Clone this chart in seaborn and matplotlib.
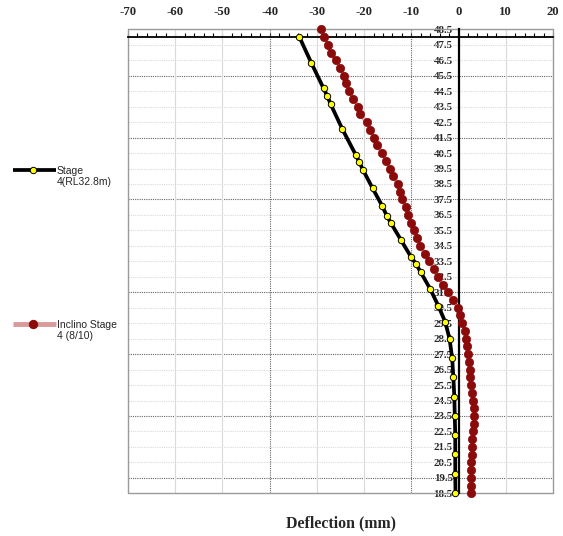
import matplotlib
matplotlib.use("Agg")
import matplotlib.pyplot as plt
from matplotlib.lines import Line2D
from matplotlib.ticker import MultipleLocator, FormatStrFormatter
import seaborn as sns
import pandas as pd

# ---- data ----
stage_level = [48.0, 46.34, 44.69, 44.19, 43.67, 42.04, 40.4, 39.9, 39.39, 38.22,
               37.1, 36.45, 35.96, 34.88, 33.8, 33.33, 32.79, 31.71, 30.63, 29.56,
               28.48, 27.23, 26.0, 24.75, 23.52, 22.27, 21.03, 19.75, 18.5]
stage_defl = [-33.7, -31.2, -28.6, -27.8, -27.1, -24.6, -21.8, -21.0, -20.2, -18.2,
              -16.2, -15.2, -14.3, -12.2, -10.1, -9.0, -8.0, -6.0, -4.3, -2.8,
              -1.9, -1.35, -1.1, -0.9, -0.8, -0.7, -0.7, -0.7, -0.65]

inclino_level = [48.5, 48.0, 47.5, 47.0, 46.5, 46.0, 45.5, 45.0, 44.5, 44.0,
                 43.5, 43.0, 42.5, 42.0, 41.5, 41.0, 40.5, 40.0, 39.5, 39.0,
                 38.5, 38.0, 37.5, 37.0, 36.5, 36.0, 35.5, 35.0, 34.5, 34.0,
                 33.5, 33.0, 32.5, 32.0, 31.5, 31.0, 30.5, 30.0, 29.5, 29.0,
                 28.5, 28.0, 27.5, 27.0, 26.5, 26.0, 25.5, 25.0, 24.5, 24.0,
                 23.5, 23.0, 22.5, 22.0, 21.5, 21.0, 20.5, 20.0, 19.5, 19.0, 18.5]
inclino_defl = [-29.2, -28.4, -27.6, -27.1, -25.9, -25.1, -24.2, -23.9, -23.2, -22.3,
                -21.2, -20.9, -19.4, -18.7, -18.0, -17.2, -16.2, -15.3, -14.5, -13.8,
                -12.9, -12.4, -11.9, -11.2, -10.7, -10.1, -9.5, -8.8, -8.1, -7.2,
                -6.2, -5.2, -4.3, -3.3, -2.2, -1.1, -0.2, 0.3, 0.8, 1.4,
                1.6, 1.8, 2.0, 2.2, 2.4, 2.5, 2.7, 2.8, 3.0, 3.2,
                3.2, 3.2, 3.0, 2.9, 2.9, 2.8, 2.7, 2.7, 2.7, 2.6, 2.6]

x_ticks = [-70, -60, -50, -40, -30, -20, -10, 0, 10, 20]
y_ticks = [48.5, 47.5, 46.5, 45.5, 44.5, 43.5, 42.5, 41.5, 40.5, 39.5, 38.5, 37.5,
           36.5, 35.5, 34.5, 33.5, 32.5, 31.5, 30.5, 29.5, 28.5, 27.5, 26.5, 25.5,
           24.5, 23.5, 22.5, 21.5, 20.5, 19.5, 18.5]
dark_h_grid = [45.5, 41.5, 37.5, 31.5, 27.5, 23.5, 19.5]
dark_v_grid = [-40, -10]

label_stage = "Stage\n4(RL32.8m)"
label_inclino = "Inclino Stage\n4 (8/10)"
x_title = "Deflection (mm)"

df_stage = pd.DataFrame({"defl": stage_defl, "level": stage_level})
df_incl = pd.DataFrame({"defl": inclino_defl, "level": inclino_level})

sns.set_style("white")
plt.rcParams["font.family"] = ["Liberation Serif", "DejaVu Serif"]
plt.rcParams["font.weight"] = "bold"
plt.rcParams["axes.unicode_minus"] = False

W, H = 563, 536
fig = plt.figure(figsize=(W / 100, H / 100), dpi=100)
ax = fig.add_axes([128 / W, 1 - 493.3 / H, (553 - 128) / W, (493.3 - 29.3) / H])

RED_LINE = "#e0b0b0"
RED_DOT = "#8b0a0a"

# gridlines
for y in y_ticks:
    if y in dark_h_grid:
        ax.axhline(y, color="#666666", lw=0.8, ls=(0, (1, 1)), zorder=1)
    elif y not in (48.5, 18.5):
        ax.axhline(y, color="#dadada", lw=0.8, ls=(0, (1, 1)), zorder=1)
for x in x_ticks:
    if x in dark_v_grid:
        ax.axvline(x, color="#666666", lw=0.8, ls=(0, (1, 1)), zorder=1)
    elif x not in (-70, 0, 20):
        ax.axvline(x, color="#dadada", lw=0.8, zorder=1)

# frame
for y in (48.5, 18.5):
    ax.axhline(y, color="#9a9a9a", lw=1.0, zorder=2, clip_on=False)
for x in (-70, 20):
    ax.axvline(x, color="#9a9a9a", lw=1.0, zorder=2, clip_on=False)

# data
sns.lineplot(data=df_incl, x="defl", y="level", sort=False, estimator=None,
             color=RED_LINE, lw=3.0, marker="o", markersize=6.0,
             markerfacecolor=RED_DOT, markeredgecolor=RED_DOT, markeredgewidth=0.5,
             ax=ax, zorder=5, clip_on=False)
sns.lineplot(data=df_stage, x="defl", y="level", sort=False, estimator=None,
             color="black", lw=2.7, marker="o", markersize=4.6,
             markerfacecolor="#ffff00", markeredgecolor="black", markeredgewidth=0.7,
             ax=ax, zorder=6, clip_on=False)

ax.set_xlim(-70, 20)
ax.set_ylim(18.5, 48.5)

# axes styling
ax.spines["left"].set_position(("data", 0))
ax.spines["left"].set_color("black")
ax.spines["left"].set_linewidth(1.6)
ax.spines["left"].set_zorder(4)
ax.spines["top"].set_position(("data", 48.0))
ax.spines["top"].set_color("black")
ax.spines["top"].set_linewidth(1.3)
ax.spines["top"].set_zorder(4)
ax.spines["right"].set_visible(False)
ax.spines["bottom"].set_visible(False)

ax.xaxis.tick_top()
ax.set_xticks(x_ticks)
ax.xaxis.set_minor_locator(MultipleLocator(2))
ax.tick_params(axis="x", which="both", direction="out", length=3, width=0.8,
               color="black", pad=11, labelsize=9.2)
ax.set_yticks(y_ticks)
ax.yaxis.set_major_formatter(FormatStrFormatter("%.1f"))
ax.tick_params(axis="y", which="both", direction="out", length=3, width=1.0,
               color="black", pad=1.2, labelsize=7.8)

ax.set_ylabel("")
ax.xaxis.set_label_position("bottom")
ax.set_xlabel(x_title, fontsize=11.4, fontweight="bold", labelpad=16)

# legend (placed at left, outside the plot)
def legend_entry(y_px, text_y_px, line_color, lw, mfc, mec, ms, text):
    yf = 1 - y_px / H
    fig.add_artist(Line2D([13 / W, 56 / W], [yf, yf], transform=fig.transFigure,
                          color=line_color, lw=lw, solid_capstyle="butt"))
    fig.add_artist(Line2D([33 / W], [yf], transform=fig.transFigure, marker="o",
                          ms=ms, mfc=mfc, mec=mec, mew=0.7, lw=0))
    fig.text(56.5 / W, 1 - text_y_px / H, text, fontsize=7.5, va="center",
             ha="left", family=["Liberation Sans", "DejaVu Sans"],
             fontweight="normal", linespacing=1.15)

legend_entry(170, 176.5, "black", 2.7, "#ffff00", "black", 4.6, label_stage)
legend_entry(324, 330.5, "#d99a9a", 3.5, RED_DOT, RED_DOT, 6.0, label_inclino)

fig.savefig("out.png", dpi=100)
